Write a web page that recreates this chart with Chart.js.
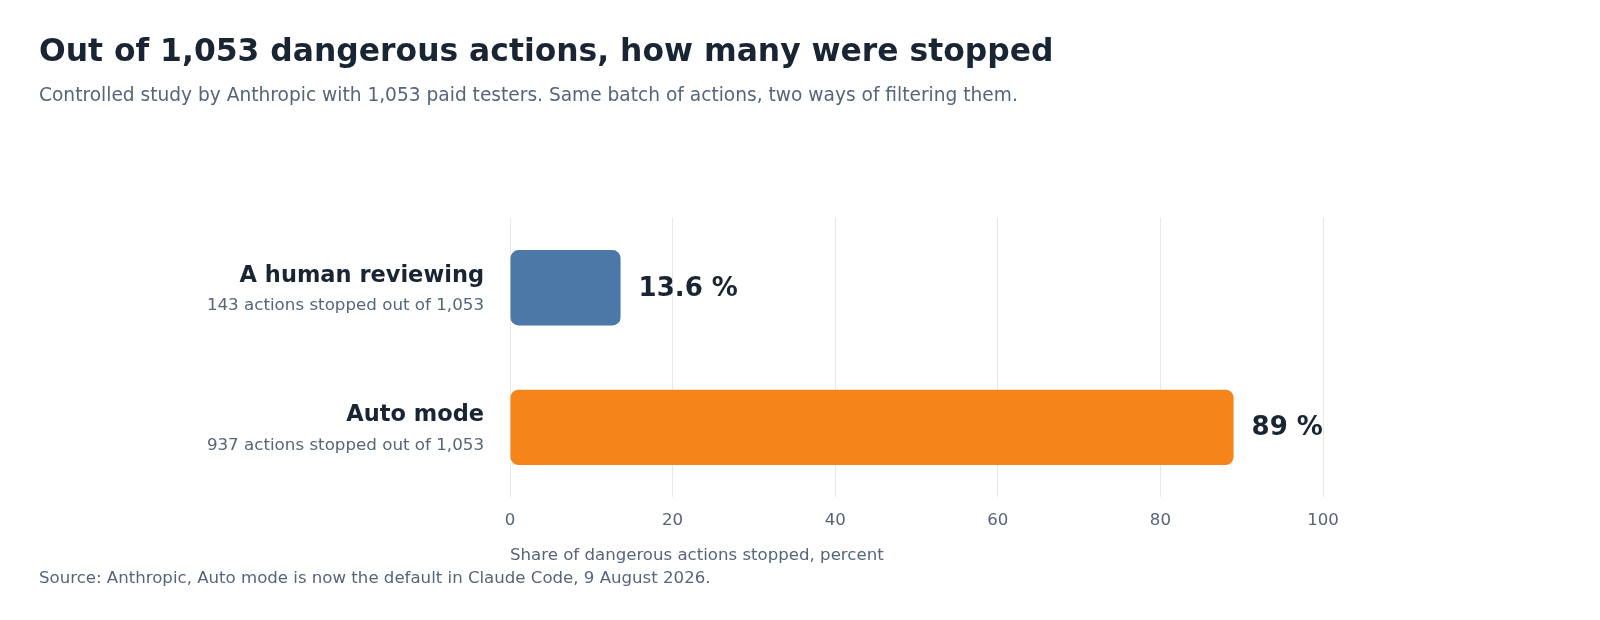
<!DOCTYPE html>
<html>
<head>
<meta charset="utf-8">
<script src="https://cdn.jsdelivr.net/npm/chart.js@4"></script>
<style>
  html, body { margin: 0; padding: 0; background: #fff; }
  #wrap { width: 1600px; height: 620px; position: relative; }
</style>
</head>
<body>
<div id="wrap"><canvas id="chart" width="1600" height="620"></canvas></div>
<script>
// Data
const categories = ['A human reviewing', 'Auto mode'];
const subLabels = ['143 actions stopped out of 1,053', '937 actions stopped out of 1,053'];
const shares = [13.6, 89];
const valueLabels = ['13.6 %', '89 %'];
const barColors = ['#4c78a8', '#f58518'];
const xTicks = [0, 20, 40, 60, 80, 100];

const FONT = '"DejaVu Sans", sans-serif';
const DARK = '#1a2533';
const GREY = '#56657a';

// Titles, category labels, value labels and axis title drawn on the canvas
const textPlugin = {
    id: 'texts',
    afterDraw(chart) {
        const c = chart.ctx;
        const x = chart.scales.x, y = chart.scales.y;
        c.save();
        c.textBaseline = 'middle';
        c.textAlign = 'left';
        c.fillStyle = DARK;
        c.font = 'bold 31.4px ' + FONT;
        c.fillText('Out of 1,053 dangerous actions, how many were stopped', 39, 53);
        c.fillStyle = GREY;
        c.font = '18.6px ' + FONT;
        c.fillText('Controlled study by Anthropic with 1,053 paid testers. Same batch of actions, two ways of filtering them.', 39, 96);
        c.font = '16.6px ' + FONT;
        c.fillText('Source: Anthropic, Auto mode is now the default in Claude Code, 9 August 2026.', 39, 579);
        c.fillText('Share of dangerous actions stopped, percent', x.left, 556);

        categories.forEach((cat, i) => {
            const cy = y.getPixelForValue(i);
            c.textAlign = 'right';
            c.fillStyle = DARK;
            c.font = 'bold 22.5px ' + FONT;
            c.fillText(cat, 484, cy - 12);
            c.fillStyle = GREY;
            c.font = '16.7px ' + FONT;
            c.fillText(subLabels[i], 484, cy + 18);
            c.textAlign = 'left';
            c.fillStyle = DARK;
            c.font = 'bold 26px ' + FONT;
            c.fillText(valueLabels[i], x.getPixelForValue(shares[i]) + 18, cy + 1);
        });
        c.restore();
    }
};

new Chart(document.getElementById('chart').getContext('2d'), {
    type: 'bar',
    data: {
        labels: categories,
        datasets: [{
            data: shares,
            backgroundColor: barColors,
            borderRadius: 8,
            borderSkipped: false,
            barPercentage: 0.54,
            categoryPercentage: 1
        }]
    },
    options: {
        indexAxis: 'y',
        responsive: false,
        animation: false,
        layout: { padding: { left: 510, right: 277, top: 218, bottom: 75 } },
        plugins: { legend: { display: false }, tooltip: { enabled: false } },
        scales: {
            x: {
                min: 0, max: 100,
                afterBuildTicks: (axis) => { axis.ticks = xTicks.map(v => ({ value: v })); },
                grid: { color: '#e8e8e8', drawTicks: false },
                border: { display: false },
                ticks: { color: GREY, padding: 14, font: { family: FONT, size: 16.6 } }
            },
            y: { display: false }
        }
    },
    plugins: [textPlugin]
});
</script>
</body>
</html>
